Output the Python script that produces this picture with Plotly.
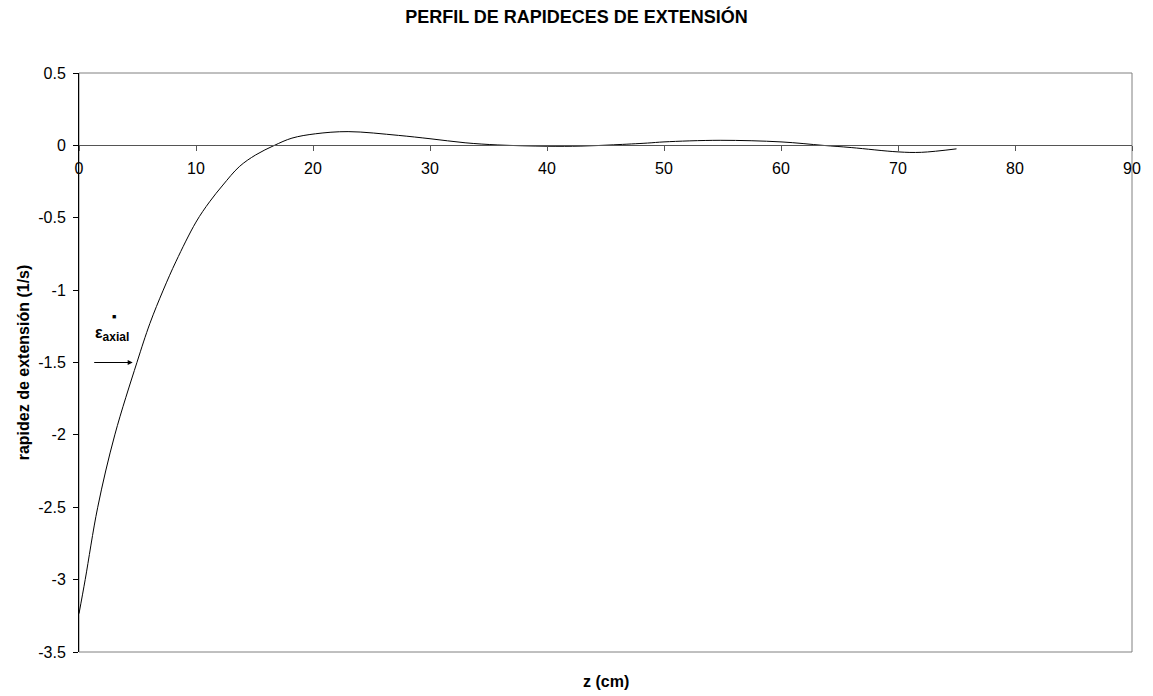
import plotly.graph_objects as go

# perfil
z_cm = [0, 0.53, 1.6, 3.06, 4.95, 6.06, 7.2, 8.3, 10.0, 11.16, 12.3, 13.7, 15.1,
        16.7, 18.2, 20.2, 23.0, 27.3, 30.0, 33.0, 35.8, 40.0, 42.9, 45.7, 48.6,
        50.0, 54.8, 60.0, 63.6, 66.0, 70.0, 72.0, 75.0]
rapidez = [-3.235, -3.0, -2.5, -2.0, -1.5, -1.23, -1.0, -0.80, -0.53, -0.39,
           -0.274, -0.147, -0.066, 0.0, 0.05, 0.08, 0.095, 0.069, 0.046, 0.018,
           0.003, -0.006, -0.005, 0.004, 0.016, 0.024, 0.035, 0.024, 0.0,
           -0.015, -0.045, -0.048, -0.024]

x_ticks = [0, 10, 20, 30, 40, 50, 60, 70, 80, 90]
y_ticks = [0.5, 0, -0.5, -1, -1.5, -2, -2.5, -3, -3.5]
y_tick_text = ['0.5', '0', '-0.5', '-1', '-1.5', '-2', '-2.5', '-3', '-3.5']

FONT = 'Liberation Sans, Arial, sans-serif'

W, H = 1153, 696

fig = go.Figure()
fig.add_trace(go.Scatter(x=z_cm, y=rapidez,
                         mode='lines',
                         line=dict(color='black', width=1, shape='spline', smoothing=1.0),
                         showlegend=False))

# frame
fig.add_shape(type='rect', xref='paper', yref='paper', x0=0, x1=1, y0=0, y1=1,
              line=dict(color='#808080', width=1), layer='below')

# epsilon label and arrow
fig.add_annotation(x=1.2, y=-1.303,
                   text='<b>ε<sub><span style="font-size:12px">axial</span></sub></b>',
                   showarrow=False, xanchor='left', yanchor='middle',
                   font=dict(size=16, color='black'))
fig.add_annotation(x=2.98, y=-1.18, text='■', showarrow=False,
                   font=dict(size=7, color='black'))
fig.add_annotation(x=4.59, y=-1.5, text='', showarrow=True, ax=-40, ay=0,
                   arrowhead=2, arrowsize=1, arrowwidth=1, arrowcolor='black')

# x axis title
fig.add_annotation(xref='paper', yref='paper', x=0.5, y=-29 / 579, text='<b>z (cm)</b>',
                   showarrow=False, yanchor='middle', font=dict(size=16, color='black'))

fig.update_layout(
    width=W, height=H,
    paper_bgcolor='white', plot_bgcolor='white',
    font=dict(family=FONT, color='black', size=16),
    margin=dict(l=79, r=16, t=73, b=44),
    title=dict(text='<b>PERFIL DE RAPIDECES DE EXTENSIÓN</b>', xref='container', x=0.5,
               y=1 - 17 / H, yanchor='middle', xanchor='center',
               font=dict(size=18, color='black')),
    xaxis=dict(range=[0, 90], tickvals=x_ticks, showgrid=False, zeroline=False,
               showline=True, linecolor='#555555', linewidth=1,
               anchor='free', position=(652 - 145.4) / 579,
               ticks='outside', ticklen=5, tickcolor='#555555',
               ticklabelstandoff=3, tickfont=dict(size=16)),
    yaxis=dict(range=[-3.5, 0.5], tickvals=y_ticks, ticktext=y_tick_text,
               showgrid=False, zeroline=False,
               showline=True, linecolor='black', linewidth=1,
               ticks='outside', ticklen=5, tickcolor='black',
               ticklabelstandoff=4, tickfont=dict(size=16),
               title=dict(text='<b>rapidez de extensión (1/s)</b>', standoff=4,
                          font=dict(size=16))),
)

# drop the browser's default 8px body margin so the figure sits at the page corner
fig.write_html('out.html', config={'displayModeBar': False},
               post_script="document.body.style.margin = '0';")
